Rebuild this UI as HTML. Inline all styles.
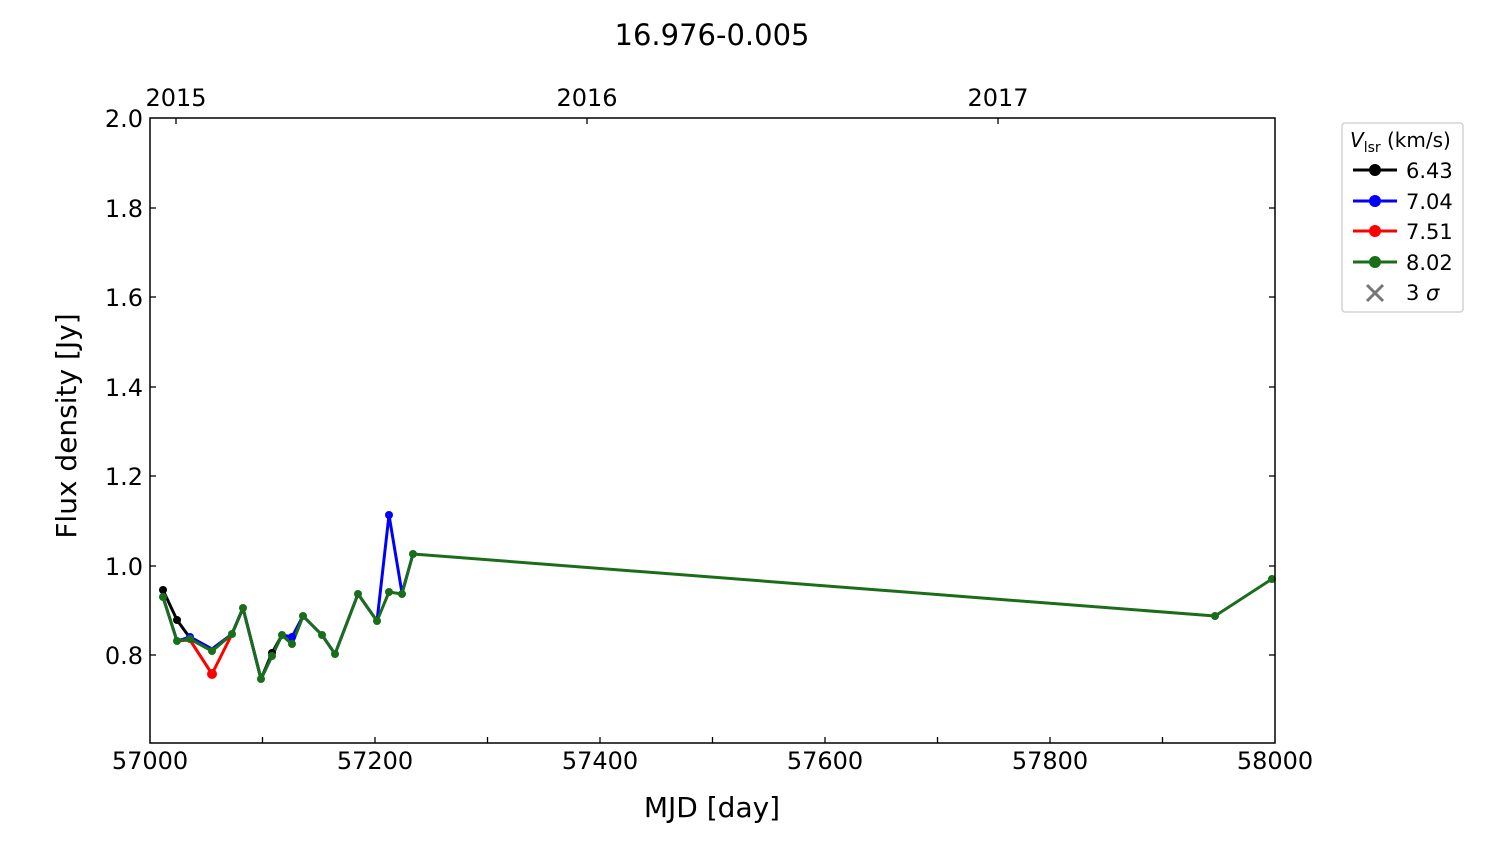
<!DOCTYPE html><html><head><style>body{margin:0;background:#fff}svg text{font-family:"DejaVu Sans","Liberation Sans",sans-serif}</style></head><body>
<svg width="1500" height="844" xmlns="http://www.w3.org/2000/svg">
<text x="712" y="45" font-size="29" text-anchor="middle">16.976-0.005</text>
<g stroke="#000" stroke-width="1.3">
<line x1="262.5" y1="743" x2="262.5" y2="737"/><line x1="375" y1="743" x2="375" y2="737"/><line x1="487.5" y1="743" x2="487.5" y2="737"/><line x1="600" y1="743" x2="600" y2="737"/><line x1="712.5" y1="743" x2="712.5" y2="737"/><line x1="825" y1="743" x2="825" y2="737"/><line x1="937.5" y1="743" x2="937.5" y2="737"/><line x1="1050" y1="743" x2="1050" y2="737"/><line x1="1162.5" y1="743" x2="1162.5" y2="737"/>
<line x1="176" y1="118" x2="176" y2="124"/><line x1="587" y1="118" x2="587" y2="124"/><line x1="998" y1="118" x2="998" y2="124"/>
<line x1="150" y1="208" x2="156" y2="208"/><line x1="150" y1="297" x2="156" y2="297"/><line x1="150" y1="387" x2="156" y2="387"/><line x1="150" y1="476" x2="156" y2="476"/><line x1="150" y1="566" x2="156" y2="566"/><line x1="150" y1="655" x2="156" y2="655"/>
<line x1="1275" y1="208" x2="1269" y2="208"/><line x1="1275" y1="297" x2="1269" y2="297"/><line x1="1275" y1="387" x2="1269" y2="387"/><line x1="1275" y1="476" x2="1269" y2="476"/><line x1="1275" y1="566" x2="1269" y2="566"/><line x1="1275" y1="655" x2="1269" y2="655"/>
</g>
<g font-size="24" text-anchor="middle">
<text x="150" y="769">57000</text><text x="375" y="769">57200</text><text x="600" y="769">57400</text><text x="825" y="769">57600</text><text x="1050" y="769">57800</text><text x="1275" y="769">58000</text>
<text x="176" y="106">2015</text><text x="587" y="106">2016</text><text x="998" y="106">2017</text>
</g>
<g font-size="24" text-anchor="end">
<text x="143" y="127">2.0</text><text x="143" y="217">1.8</text><text x="143" y="306">1.6</text><text x="143" y="396">1.4</text><text x="143" y="485">1.2</text><text x="143" y="575">1.0</text><text x="143" y="664">0.8</text>
</g>
<text x="712" y="817" font-size="28" text-anchor="middle">MJD [day]</text>
<text transform="translate(76,426) rotate(-90)" font-size="28" text-anchor="middle">Flux density [Jy]</text>
<g fill="none" stroke-width="3" stroke-linejoin="round">
<polyline stroke="#000" points="163,590 177,620 190,638 212,651 232,634 243,608 261,679 272,653 282,635 292,644 303,616"/>
<polyline stroke="#00f" points="163,597 177,641 190,637 212,649 232,634 243,608 261,679 272,656 282,635 292,637 303,616 322,635 335,654 358,594 377,621 389,515 402,593 413,554"/>
<polyline stroke="#f00" points="177,641 190,640 212,674 232,634"/>
<polyline stroke="#1a6e1a" points="163,597 177,641 190,639 212,651 232,634 243,608 261,679 272,656 282,635 292,644 303,616 322,635 335,654 358,594 377,621 389,592 402,594 413,554 1215,616 1272,579"/>
</g>
<g fill="#000"><circle cx="163" cy="590" r="4"/><circle cx="177" cy="620" r="4"/><circle cx="272" cy="653" r="4"/></g>
<g fill="#00f"><circle cx="389" cy="515" r="4"/><circle cx="292" cy="637" r="4"/><circle cx="190" cy="637" r="4"/></g>
<g fill="#f00"><circle cx="212" cy="674" r="5"/></g>
<g fill="#1a6e1a"><circle cx="163" cy="597" r="4"/><circle cx="177" cy="641" r="4"/><circle cx="190" cy="639" r="4"/><circle cx="212" cy="651" r="4"/><circle cx="232" cy="634" r="4"/><circle cx="243" cy="608" r="4"/><circle cx="261" cy="679" r="4"/><circle cx="272" cy="656" r="4"/><circle cx="282" cy="635" r="4"/><circle cx="292" cy="644" r="4"/><circle cx="303" cy="616" r="4"/><circle cx="322" cy="635" r="4"/><circle cx="335" cy="654" r="4"/><circle cx="358" cy="594" r="4"/><circle cx="377" cy="621" r="4"/><circle cx="389" cy="592" r="4"/><circle cx="402" cy="594" r="4"/><circle cx="413" cy="554" r="4"/><circle cx="1215" cy="616" r="4"/><circle cx="1272" cy="579" r="4"/></g>
<rect x="150" y="118" width="1125" height="625" fill="none" stroke="#000" stroke-width="1.5"/>
<rect x="1342" y="123" width="121" height="189" rx="3" fill="#fff" stroke="#ccc" stroke-width="1.3"/>
<text x="1350" y="147" font-size="20"><tspan font-style="italic">V</tspan><tspan font-size="14" dy="5">lsr</tspan><tspan dy="-5"> (km/s)</tspan></text>
<g stroke-width="3"><line x1="1353" y1="170" x2="1397" y2="170" stroke="#000"/><line x1="1353" y1="201" x2="1397" y2="201" stroke="#00f"/><line x1="1353" y1="231" x2="1397" y2="231" stroke="#f00"/><line x1="1353" y1="262" x2="1397" y2="262" stroke="#1a6e1a"/></g>
<circle cx="1375" cy="170" r="6" fill="#000"/><circle cx="1375" cy="201" r="6" fill="#00f"/><circle cx="1375" cy="231" r="6" fill="#f00"/><circle cx="1375" cy="262" r="6" fill="#1a6e1a"/>
<g stroke="#777" stroke-width="3"><line x1="1367" y1="285" x2="1383" y2="301"/><line x1="1383" y1="285" x2="1367" y2="301"/></g>
<g font-size="21"><text x="1406" y="178">6.43</text><text x="1406" y="209">7.04</text><text x="1406" y="239">7.51</text><text x="1406" y="270">8.02</text><text x="1406" y="300">3 <tspan font-style="italic">σ</tspan></text></g>
</svg></body></html>
